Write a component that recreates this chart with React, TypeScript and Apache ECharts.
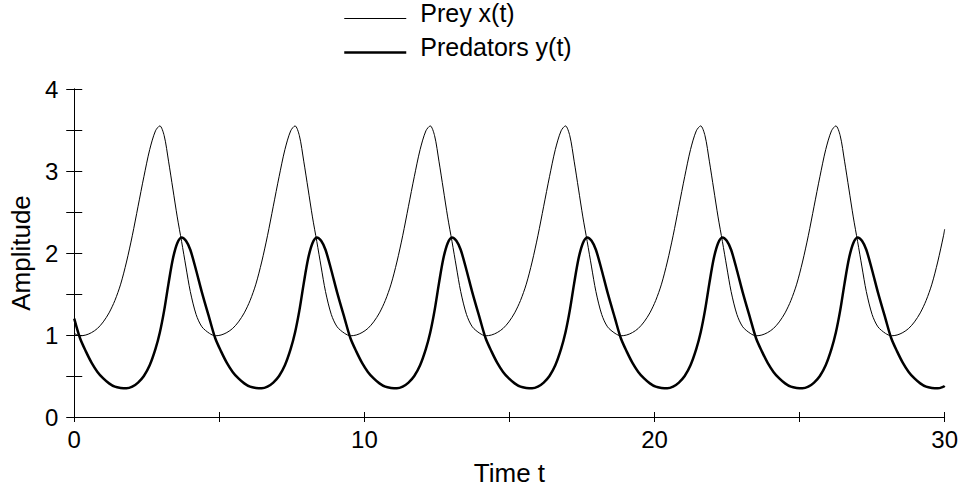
import React, { useEffect, useRef } from "react";
import * as echarts from "echarts";

// Time samples (t)
const time = [
  0, 0.2, 0.4, 0.6, 0.8, 1, 1.2, 1.4, 1.6, 1.8, 2, 2.2, 2.4, 2.6, 2.8, 2.95, 3.1, 3.25, 3.4, 3.55, 3.7, 3.85, 4, 4.2, 4.4,
  4.66, 4.86, 5.06, 5.26, 5.46, 5.66, 5.86, 6.06, 6.26, 6.46, 6.66, 6.86, 7.06, 7.26, 7.46, 7.61, 7.76, 7.91, 8.06, 8.21, 8.36, 8.51, 8.66, 8.86, 9.06,
  9.32, 9.52, 9.72, 9.92, 10.12, 10.32, 10.52, 10.72, 10.92, 11.12, 11.32, 11.52, 11.72, 11.92, 12.12, 12.27, 12.42, 12.57, 12.72, 12.87, 13.02, 13.17, 13.32, 13.52, 13.72,
  13.98, 14.18, 14.38, 14.58, 14.78, 14.98, 15.18, 15.38, 15.58, 15.78, 15.98, 16.18, 16.38, 16.58, 16.78, 16.93, 17.08, 17.23, 17.38, 17.53, 17.68, 17.83, 17.98, 18.18, 18.38,
  18.64, 18.84, 19.04, 19.24, 19.44, 19.64, 19.84, 20.04, 20.24, 20.44, 20.64, 20.84, 21.04, 21.24, 21.44, 21.59, 21.74, 21.89, 22.04, 22.19, 22.34, 22.49, 22.64, 22.84, 23.04,
  23.3, 23.5, 23.7, 23.9, 24.1, 24.3, 24.5, 24.7, 24.9, 25.1, 25.3, 25.5, 25.7, 25.9, 26.1, 26.25, 26.4, 26.55, 26.7, 26.85, 27, 27.15, 27.3, 27.5, 27.7,
  27.96, 28.16, 28.36, 28.56, 28.76, 28.96, 29.16, 29.36, 29.56, 29.76, 29.96, 30,
];

// Prey x(t)
const prey = [
  1.02, 0.99, 1.0, 1.03, 1.08, 1.16, 1.27, 1.42, 1.62, 1.89, 2.21, 2.57, 2.93, 3.26, 3.49, 3.55, 3.43, 3.12, 2.78, 2.44, 2.14, 1.83, 1.53, 1.25, 1.1,
  1.02, 0.99, 1.0, 1.03, 1.08, 1.16, 1.27, 1.42, 1.62, 1.89, 2.21, 2.57, 2.93, 3.26, 3.49, 3.55, 3.43, 3.12, 2.78, 2.44, 2.14, 1.83, 1.53, 1.25, 1.1,
  1.02, 0.99, 1.0, 1.03, 1.08, 1.16, 1.27, 1.42, 1.62, 1.89, 2.21, 2.57, 2.93, 3.26, 3.49, 3.55, 3.43, 3.12, 2.78, 2.44, 2.14, 1.83, 1.53, 1.25, 1.1,
  1.02, 0.99, 1.0, 1.03, 1.08, 1.16, 1.27, 1.42, 1.62, 1.89, 2.21, 2.57, 2.93, 3.26, 3.49, 3.55, 3.43, 3.12, 2.78, 2.44, 2.14, 1.83, 1.53, 1.25, 1.1,
  1.02, 0.99, 1.0, 1.03, 1.08, 1.16, 1.27, 1.42, 1.62, 1.89, 2.21, 2.57, 2.93, 3.26, 3.49, 3.55, 3.43, 3.12, 2.78, 2.44, 2.14, 1.83, 1.53, 1.25, 1.1,
  1.02, 0.99, 1.0, 1.03, 1.08, 1.16, 1.27, 1.42, 1.62, 1.89, 2.21, 2.57, 2.93, 3.26, 3.49, 3.55, 3.43, 3.12, 2.78, 2.44, 2.14, 1.83, 1.53, 1.25, 1.1,
  1.02, 0.99, 1.0, 1.03, 1.08, 1.16, 1.27, 1.42, 1.62, 1.89, 2.21, 2.29,
];

// Predators y(t)
const predators = [
  1.2, 0.96, 0.8, 0.66, 0.55, 0.47, 0.41, 0.37, 0.355, 0.35, 0.37, 0.42, 0.5, 0.63, 0.83, 1.03, 1.3, 1.63, 1.93, 2.12, 2.19, 2.15, 2.04, 1.79, 1.52,
  1.2, 0.96, 0.8, 0.66, 0.55, 0.47, 0.41, 0.37, 0.355, 0.35, 0.37, 0.42, 0.5, 0.63, 0.83, 1.03, 1.3, 1.63, 1.93, 2.12, 2.19, 2.15, 2.04, 1.79, 1.52,
  1.2, 0.96, 0.8, 0.66, 0.55, 0.47, 0.41, 0.37, 0.355, 0.35, 0.37, 0.42, 0.5, 0.63, 0.83, 1.03, 1.3, 1.63, 1.93, 2.12, 2.19, 2.15, 2.04, 1.79, 1.52,
  1.2, 0.96, 0.8, 0.66, 0.55, 0.47, 0.41, 0.37, 0.355, 0.35, 0.37, 0.42, 0.5, 0.63, 0.83, 1.03, 1.3, 1.63, 1.93, 2.12, 2.19, 2.15, 2.04, 1.79, 1.52,
  1.2, 0.96, 0.8, 0.66, 0.55, 0.47, 0.41, 0.37, 0.355, 0.35, 0.37, 0.42, 0.5, 0.63, 0.83, 1.03, 1.3, 1.63, 1.93, 2.12, 2.19, 2.15, 2.04, 1.79, 1.52,
  1.2, 0.96, 0.8, 0.66, 0.55, 0.47, 0.41, 0.37, 0.355, 0.35, 0.37, 0.42, 0.5, 0.63, 0.83, 1.03, 1.3, 1.63, 1.93, 2.12, 2.19, 2.15, 2.04, 1.79, 1.52,
  1.2, 0.96, 0.8, 0.66, 0.55, 0.47, 0.41, 0.37, 0.355, 0.35, 0.37, 0.38,
];

const seriesNames = ["Prey x(t)", "Predators y(t)"];
const seriesWidths = [1, 2.5];
const xLabelTicks = [0, 10, 20, 30];
const yLabelTicks = [0, 1, 2, 3, 4];

const FONT = "'Liberation Sans', Arial, Helvetica, sans-serif";

export default function App() {
  const ref = useRef<HTMLDivElement>(null);

  useEffect(() => {
    if (!ref.current) return;
    const chart = echarts.init(ref.current, undefined, { renderer: "svg" });

    const axisLine = { show: true, lineStyle: { color: "#000", width: 1 } };

    const option = {
      animation: false,
      backgroundColor: "#fff",
      textStyle: { fontFamily: FONT, color: "#000" },
      legend: {
        orient: "vertical",
        left: 343,
        top: 0,
        padding: 0,
        itemWidth: 62,
        itemHeight: 14,
        itemGap: 9,
        itemStyle: { opacity: 0 },
        data: seriesNames.map((name, i) => ({
          name,
          itemStyle: { opacity: 0 },
          lineStyle: { width: seriesWidths[i], color: "#000" },
        })),
        formatter: (name: string) => `{t|${name}}`,
        textStyle: {
          fontFamily: FONT,
          fontSize: 25,
          color: "#000",
          rich: {
            t: {
              fontFamily: FONT,
              fontSize: 25,
              color: "#000",
              padding: [0, 0, 12, 9],
            },
          },
        },
      },
      grid: { left: 73, right: 15, top: 89, bottom: 72, containLabel: false },
      xAxis: [
        {
          type: "value",
          min: 0,
          max: 30,
          interval: 5,
          position: "bottom",
          name: "Time t",
          nameLocation: "middle",
          nameGap: 43,
          nameTextStyle: { fontFamily: FONT, fontSize: 26, color: "#000" },
          axisLine,
          axisTick: { show: true, inside: true, length: 5, lineStyle: { color: "#000" } },
          splitLine: { show: false },
          axisLabel: {
            fontFamily: FONT,
            fontSize: 24,
            color: "#000",
            margin: 10,
            formatter: (v: number) => (xLabelTicks.includes(v) ? String(v) : ""),
          },
        },
        {
          type: "value",
          min: 0,
          max: 30,
          interval: 5,
          position: "top",
          axisLine,
          axisTick: { show: true, inside: true, length: 5, lineStyle: { color: "#000" } },
          splitLine: { show: false },
          axisLabel: { show: false },
        },
      ],
      yAxis: [
        {
          type: "value",
          min: 0,
          max: 4,
          interval: 0.5,
          position: "left",
          name: "Amplitude",
          nameLocation: "middle",
          nameRotate: 90,
          nameGap: 38,
          nameTextStyle: { fontFamily: FONT, fontSize: 26, color: "#000" },
          axisLine,
          axisTick: { show: true, inside: true, length: 8, lineStyle: { color: "#000" } },
          splitLine: { show: false },
          axisLabel: {
            fontFamily: FONT,
            fontSize: 24,
            color: "#000",
            margin: 16,
            formatter: (v: number) => (yLabelTicks.includes(v) ? String(v) : ""),
          },
        },
        {
          type: "value",
          min: 0,
          max: 4,
          interval: 0.5,
          position: "right",
          axisLine,
          axisTick: { show: true, inside: true, length: 8, lineStyle: { color: "#000" } },
          splitLine: { show: false },
          axisLabel: { show: false },
        },
      ],
      series: [
        {
          name: seriesNames[0],
          type: "line",
          xAxisIndex: 0,
          yAxisIndex: 0,
          data: time.map((t, i) => [t, prey[i]]),
          smooth: 0.3,
          symbol: "none",
          lineStyle: { color: "#000", width: seriesWidths[0] },
          itemStyle: { color: "#000" },
        },
        {
          name: seriesNames[1],
          type: "line",
          xAxisIndex: 0,
          yAxisIndex: 0,
          data: time.map((t, i) => [t, predators[i]]),
          smooth: 0.3,
          symbol: "none",
          lineStyle: { color: "#000", width: seriesWidths[1] },
          itemStyle: { color: "#000" },
        },
      ],
    };

    chart.setOption(option as any);
    return () => chart.dispose();
  }, []);

  return (
    <div
      ref={ref}
      style={{ position: "fixed", left: 0, top: 0, width: 961, height: 491, background: "#fff" }}
    />
  );
}
